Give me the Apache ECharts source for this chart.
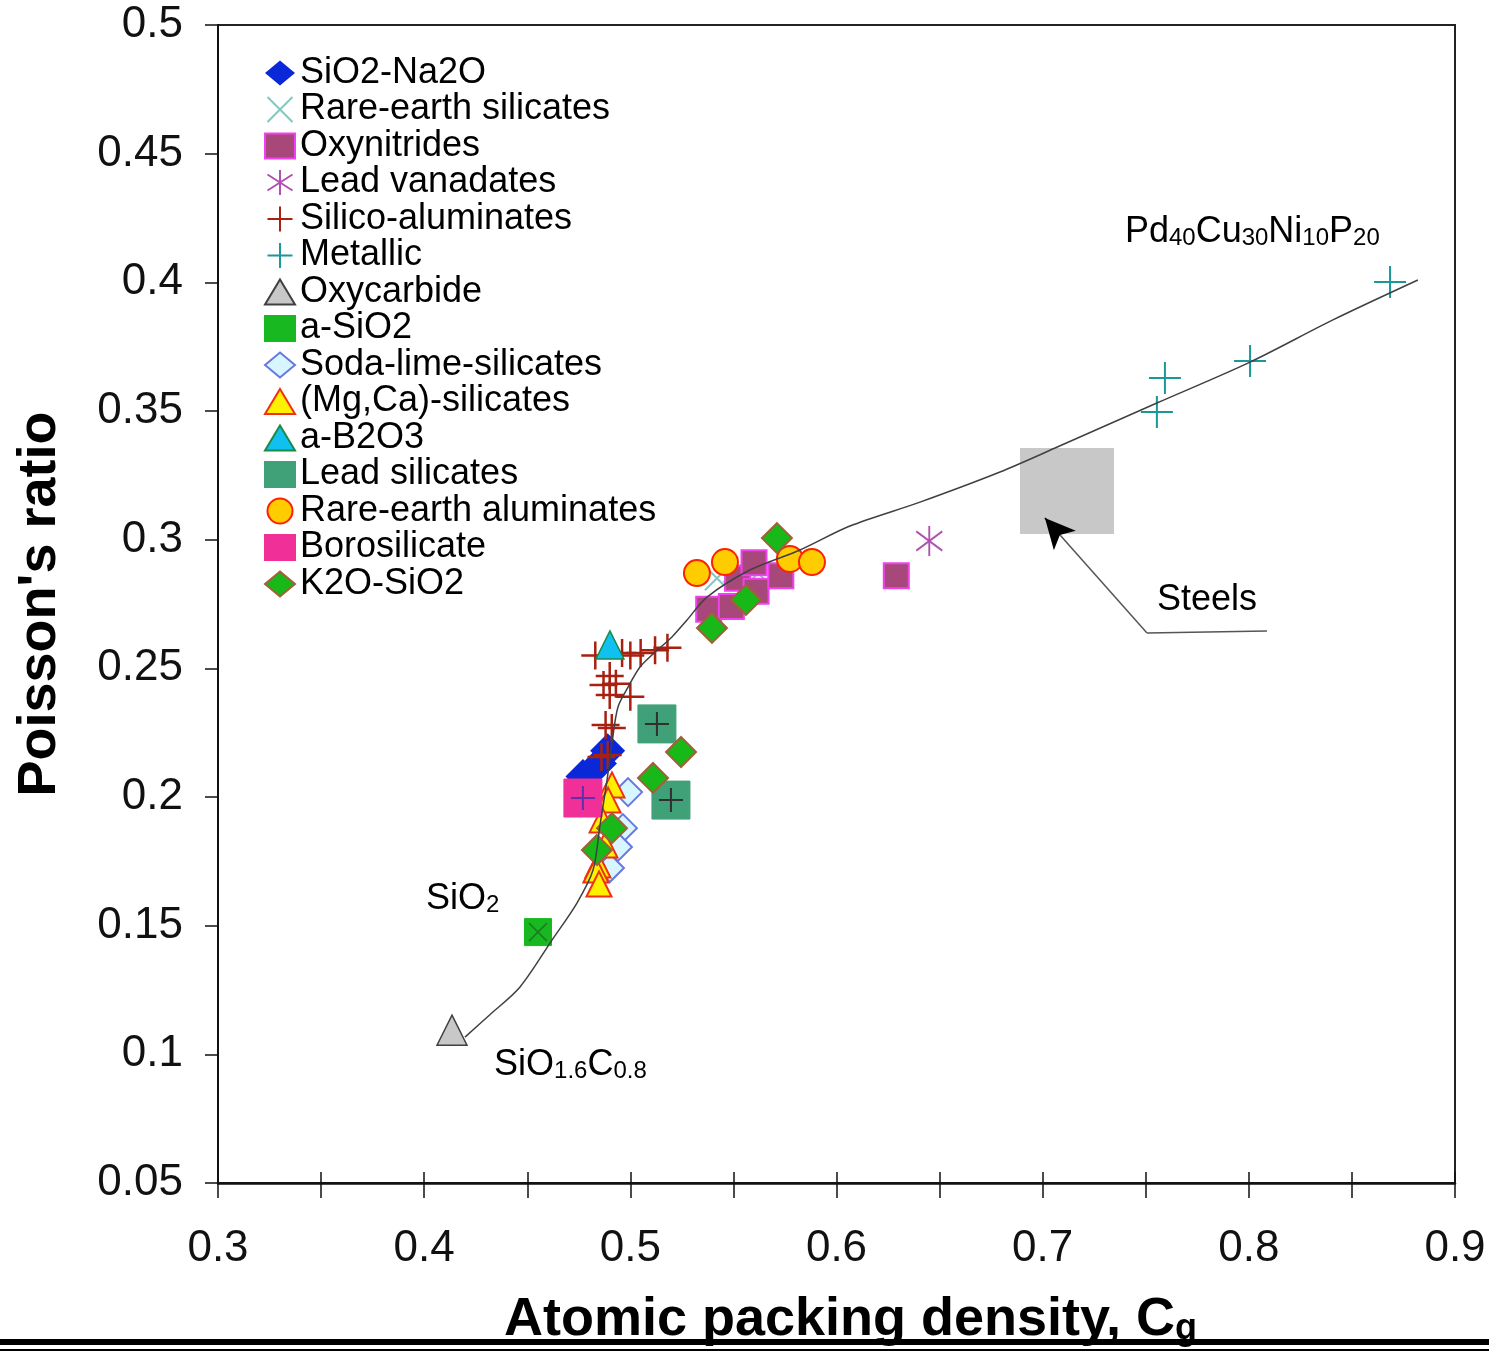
<!DOCTYPE html>
<html><head><meta charset="utf-8">
<script src="https://cdn.jsdelivr.net/npm/echarts@6/dist/echarts.min.js"></script>
<style>html,body{margin:0;padding:0;background:#fff}#c{width:1489px;height:1355px}</style>
</head><body><div id="c"></div>
<script>
// ---- tick labels ----
const xTickLabels = ['0.3','0.4','0.5','0.6','0.7','0.8','0.9'];
const yTickLabels = ['0.05','0.1','0.15','0.2','0.25','0.3','0.35','0.4','0.45','0.5'];

// ---- series names (legend order) ----
const seriesNames = ['SiO2-Na2O','Rare-earth silicates','Oxynitrides','Lead vanadates','Silico-aluminates','Metallic','Oxycarbide','a-SiO2','Soda-lime-silicates','(Mg,Ca)-silicates','a-B2O3','Lead silicates','Rare-earth aluminates','Borosilicate','K2O-SiO2'];

// ---- data [Cg, Poisson's ratio] ----
const sio2Na2O = [[0.477,0.208],[0.485,0.213],[0.489,0.218]];
const rareEarthSilicates = [[0.542,0.285],[0.551,0.288],[0.562,0.287]];
const oxynitrides = [[0.538,0.273],[0.549,0.274],[0.552,0.285],[0.560,0.291],[0.561,0.280],[0.573,0.286],[0.629,0.286]];
const leadVanadates = [[0.645,0.2995]];
const silicoAluminates = [[0.483,0.255],[0.496,0.256],[0.500,0.255],[0.505,0.256],[0.512,0.257],[0.518,0.258],[0.490,0.247],[0.487,0.2435],[0.493,0.244],[0.500,0.239],[0.490,0.2396],[0.488,0.228],[0.491,0.2268],[0.486,0.2155],[0.489,0.2163]];
const metallic = [[0.7554,0.3496],[0.7593,0.3628],[0.8006,0.3694],[0.8685,0.4001]];
const oxycarbide = [[0.4135,0.1094]];
const aSiO2 = [[0.4552,0.1475]];
const sodaLimeSilicates = [[0.4989,0.2019],[0.4964,0.1879],[0.4940,0.1806],[0.4901,0.1724]];
const mgCaSilicates = [[0.4911,0.2047],[0.4892,0.1988],[0.4863,0.1911],[0.4877,0.1813],[0.4843,0.1736],[0.4833,0.1716],[0.4848,0.1662]];
const aB2O3 = [[0.4901,0.2591]];
const leadSilicates = [[0.5129,0.2284],[0.5197,0.1988]];
const rareEarthAluminates = [[0.5323,0.2870],[0.5459,0.2913],[0.5774,0.2925],[0.5881,0.2913]];
const borosilicate = [[0.477,0.1996]];
const k2oSiO2 = [[0.5711,0.3006],[0.5561,0.2766],[0.5396,0.2657],[0.5246,0.2175],[0.5110,0.2074],[0.4911,0.1879],[0.4838,0.1794]];

// trend curve
const trendCurve = [[0.4198,0.1067],[0.4320,0.1155],[0.4465,0.1262],[0.4620,0.1444],[0.4741,0.1588],[0.4819,0.1716],[0.4853,0.1891],[0.4887,0.2066],[0.4911,0.2210],[0.4940,0.2350],[0.4989,0.2427],[0.5047,0.2505],[0.5120,0.2563],[0.5202,0.2622],[0.5275,0.2688],[0.5372,0.2777],[0.5580,0.2882],[0.5823,0.2960],[0.6065,0.3053],[0.6405,0.3146],[0.6793,0.3263],[0.7060,0.3356],[0.7554,0.3531],[0.8006,0.3690],[0.8408,0.3854],[0.8820,0.4009]];

// steels box and arrow
const steelsBox = [[0.689,0.3356],[0.7346,0.3022]];
const steelsArrowTail = [[0.8088,0.2645],[0.7506,0.2637]];
const steelsArrow = [[0.7506,0.2637],[0.7011,0.3084]];

// annotations: [x, y, rich text]
const annotations = [
  [0.7399,0.4196,'{m|Pd}{s|40}{m|Cu}{s|30}{m|Ni}{s|10}{m|P}{s|20}'],
  [0.7554,0.2766,'{m|Steels}'],
  [0.4009,0.1604,'{m|SiO}{s|2}'],
  [0.4339,0.0959,'{m|SiO}{s|1.6}{m|C}{s|0.8}']
];

const FONT = 'Liberation Sans, Arial, sans-serif';
const PLUS = 'path://M0,50L100,50M50,0L50,100';
const CROSS = 'path://M0,0L100,100M0,100L100,0';
const STAR = 'path://M50,0L50,100M0,18L100,82M0,82L100,18';

function sc(name, data, symbol, size, fill, border, bw, extra) {
  return Object.assign({
    name: name, type: 'scatter', data: data, symbol: symbol, symbolSize: size,
    itemStyle: {color: fill, borderColor: border, borderWidth: bw, opacity: 1},
    emphasis: {disabled: true}, animation: false
  }, extra || {});
}

// arrow head: short final piece of the arrow shaft, drawn in black
const arrowHeadStart = [
  steelsArrow[1][0] + (steelsArrow[0][0] - steelsArrow[1][0]) * 0.05,
  steelsArrow[1][1] + (steelsArrow[0][1] - steelsArrow[1][1]) * 0.05
];

const series = [
  sc('SiO2-Na2O', sio2Na2O, 'diamond', 35, '#0a28d8', '#0a28d8', 0),
  sc('Rare-earth silicates', rareEarthSilicates, CROSS, 24, '#80c8c0', '#80c8c0', 2),
  sc('Oxynitrides', oxynitrides, 'rect', 25, '#a8487a', '#f040f0', 2),
  sc('Lead vanadates', leadVanadates, STAR, [26,30], '#b050b0', '#b050b0', 2),
  sc('Silico-aluminates', silicoAluminates, PLUS, 28, '#a82010', '#a82010', 2.5),
  sc('Metallic', metallic, PLUS, 32, '#189898', '#189898', 2),
  sc('Oxycarbide', oxycarbide, 'triangle', 30, '#c8c8c8', '#404040', 1.5),
  sc('a-SiO2', aSiO2, 'rect', 27, '#18b820', '#18b820', 1),
  sc('a-SiO2', aSiO2, CROSS, 18, '#207a20', '#207a20', 1.5),
  sc('Soda-lime-silicates', sodaLimeSilicates, 'diamond', 28, '#d8f6ff', '#6878e0', 2),
  sc('(Mg,Ca)-silicates', mgCaSilicates, 'triangle', 25, '#fff000', '#f03010', 2),
  sc('a-B2O3', aB2O3, 'triangle', 28, '#10c0f0', '#1a8a4a', 1.5),
  sc('Lead silicates', leadSilicates, 'rect', 38, '#40a078', '#40a078', 1),
  sc('Lead silicates', leadSilicates, PLUS, 24, '#303030', '#303030', 2),
  sc('Rare-earth aluminates', rareEarthAluminates, 'circle', 26, '#ffcc00', '#ff2000', 2),
  sc('Borosilicate', borosilicate, 'rect', 38, '#f03098', '#f03098', 1),
  sc('Borosilicate', borosilicate, PLUS, 24, '#6030a8', '#6030a8', 2),
  sc('K2O-SiO2', k2oSiO2, 'diamond', 30, '#18b818', '#a0603a', 2),
  {
    name: 'steelsBox', type: 'line', data: [], z: 1, animation: false,
    markArea: {silent: true, itemStyle: {color: '#c8c8c8'},
      data: [[{coord: steelsBox[0]}, {coord: steelsBox[1]}]]},
    markLine: {silent: true, animation: false, symbol: 'none',
      lineStyle: {color: '#555', width: 1.5, type: 'solid'}, label: {show: false},
      data: [
        [{coord: steelsArrow[0]}, {coord: arrowHeadStart}],
        [{coord: steelsArrowTail[0]}, {coord: steelsArrowTail[1]}]
      ]}
  },
  {
    name: 'steelsArrowHead', type: 'line', data: [], z: 2, animation: false,
    markLine: {silent: true, animation: false, symbol: ['none', 'arrow'], symbolSize: [22, 30],
      lineStyle: {color: '#000', width: 1.5, type: 'solid'}, label: {show: false},
      data: [[{coord: arrowHeadStart}, {coord: steelsArrow[1]}]]}
  },
  {
    name: 'trend', type: 'line', data: trendCurve, smooth: 0.3, showSymbol: false, symbol: 'none',
    lineStyle: {color: '#404040', width: 1.5}, z: 20, animation: false, silent: true
  },
  {
    name: 'annotations', type: 'scatter', symbolSize: 0, z: 25, animation: false, silent: true,
    itemStyle: {color: '#000', opacity: 1},
    data: annotations.map(a => ({value: [a[0], a[1]], label: {formatter: a[2]}})),
    label: {show: true, position: 'right', distance: 0, color: '#000', opacity: 1, textBorderWidth: 0,
      rich: {
        m: {fontFamily: FONT, fontSize: 36, lineHeight: 36, color: '#000'},
        s: {fontFamily: FONT, fontSize: 24, lineHeight: 16, verticalAlign: 'bottom', color: '#000'}
      }}
  }
];

const chart = echarts.init(document.getElementById('c'), null, {renderer: 'canvas'});
chart.setOption({
  backgroundColor: '#fff',
  animation: false,
  grid: {left: 218, top: 25, right: 34, bottom: 172, containLabel: false, outerBoundsMode: 'none',
    show: true, borderColor: '#222', borderWidth: 2, backgroundColor: 'rgba(0,0,0,0)'},
  legend: {
    data: seriesNames, orient: 'vertical', left: 259, top: 50,
    itemWidth: 30, itemHeight: 25, itemGap: 0.5, selectedMode: false,
    textStyle: {fontFamily: FONT, fontSize: 36, lineHeight: 36, color: '#000'}
  },
  xAxis: [{
    type: 'value', min: 0.3, max: 0.9, interval: 0.05, position: 'bottom',
    axisLine: {show: true, onZero: false, lineStyle: {color: '#111', width: 2.5}},
    axisTick: {show: true, inside: false, length: 15, lineStyle: {color: '#111', width: 1.5}},
    axisLabel: {margin: 44, fontFamily: FONT, fontSize: 44, color: '#111',
      formatter: v => { const r = Math.round(v * 100); return r % 10 === 0 ? xTickLabels[(r - 30) / 10] : ''; }},
    splitLine: {show: false},
    name: 'Atomic packing density, C{g|g}', nameLocation: 'middle', nameGap: 110,
    nameTextStyle: {fontFamily: FONT, fontSize: 54, fontWeight: 'bold', color: '#000', lineHeight: 54, padding: [0,0,0,28],
      rich: {g: {fontFamily: FONT, fontSize: 36, fontWeight: 'bold', lineHeight: 20, verticalAlign: 'bottom', color: '#000'}}}
  }, {
    type: 'value', min: 0.3, max: 0.9, interval: 0.05, position: 'bottom',
    axisLine: {show: false, onZero: false},
    axisTick: {show: true, inside: true, length: 11, lineStyle: {color: '#111', width: 1.5}},
    axisLabel: {show: false}, splitLine: {show: false}
  }],
  yAxis: {
    type: 'value', min: 0.05, max: 0.5, interval: 0.05,
    axisLine: {show: true, onZero: false, lineStyle: {color: '#111', width: 2}},
    axisTick: {show: true, inside: false, length: 13, lineStyle: {color: '#111', width: 1.5}},
    axisLabel: {margin: 35, fontFamily: FONT, fontSize: 44, color: '#111',
      formatter: v => yTickLabels[Math.round(v * 20) - 1]},
    splitLine: {show: false},
    name: "Poisson's ratio", nameLocation: 'middle', nameGap: 151,
    nameTextStyle: {fontFamily: FONT, fontSize: 54, fontWeight: 'bold', color: '#000'}
  },
  graphic: [
    {type: 'rect', shape: {x: 0, y: 1339, width: 1489, height: 6}, style: {fill: '#000'}, z: 100},
    {type: 'rect', shape: {x: 0, y: 1349, width: 1489, height: 2}, style: {fill: '#000'}, z: 100}
  ],
  series: series
});
</script>
</body></html>
